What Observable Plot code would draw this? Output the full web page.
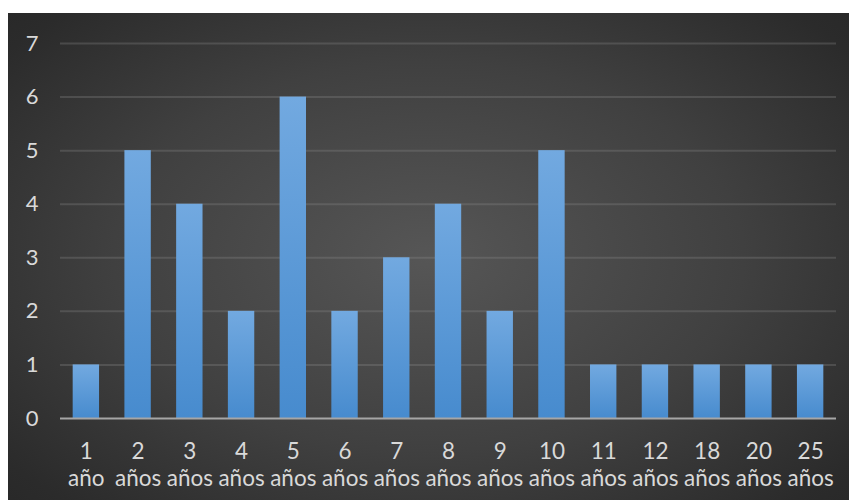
<!DOCTYPE html>
<html>
<head>
<meta charset="utf-8">
<script src="https://cdn.jsdelivr.net/npm/d3@7"></script>
<script src="https://cdn.jsdelivr.net/npm/@observablehq/plot@0.6"></script>
<style>
  html, body { margin: 0; padding: 0; background: #ffffff; }
  #chart { padding: 13px 0 0 8px; }
  #chart svg { display: block; }
</style>
</head>
<body>
<div id="chart"></div>
<script>
// Number of people by years (antigüedad)
const years = ["1", "2", "3", "4", "5", "6", "7", "8", "9", "10", "11", "12", "18", "20", "25"];
const counts = [1, 5, 4, 2, 6, 2, 3, 4, 2, 5, 1, 1, 1, 1, 1];
const tickLabels = ["1\naño", "2\naños", "3\naños", "4\naños", "5\naños", "6\naños", "7\naños",
  "8\naños", "9\naños", "10\naños", "11\naños", "12\naños", "18\naños", "20\naños", "25\naños"];
const yTicks = [0, 1, 2, 3, 4, 5, 6, 7];

const rows = years.map((y, i) => ({year: y, count: counts[i], label: tickLabels[i]}));
const labelOf = new Map(rows.map(d => [d.year, d.label]));

const chart = Plot.plot({
  width: 841,
  height: 487,
  marginLeft: 52,
  marginRight: 13,
  marginTop: 30,
  marginBottom: 82,
  style: {
    background: "radial-gradient(ellipse 75% 80% at 50% 50%, #565656 0%, #404040 50%, #2b2b2b 85%, #262626 100%)",
    color: "#d9d9d9",
    fontFamily: "Lato, 'Open Sans', sans-serif"
  },
  x: {domain: years, paddingInner: 0.49, paddingOuter: 0.245, round: false, label: null},
  y: {domain: [0, 7], label: null},
  marks: [
    Plot.gridY(yTicks.filter(v => v > 0), {stroke: "#8a8a8a", strokeOpacity: 0.3, strokeWidth: 2}),
    Plot.barY(rows, {x: "year", y: "count", fill: "url(#barFill)"}),
    Plot.ruleY([0], {stroke: "#a6a6a6", strokeWidth: 2}),
    Plot.axisY({ticks: yTicks, tickFormat: d => String(d), tickSize: 0, tickPadding: 22,
      fontSize: 22, fill: "#d9d9d9", label: null}),
    Plot.axisX({tickSize: 0, tickPadding: 21, fontSize: 22.5, lineHeight: 1.22, fill: "#d9d9d9",
      tickFormat: d => labelOf.get(d), label: null})
  ]
});

// vertical gradient used by the bars
const defs = d3.select(chart).insert("defs", ":first-child");
const grad = defs.append("linearGradient")
  .attr("id", "barFill").attr("x1", 0).attr("y1", 0).attr("x2", 0).attr("y2", 1);
grad.append("stop").attr("offset", "0%").attr("stop-color", "#72a9e0");
grad.append("stop").attr("offset", "100%").attr("stop-color", "#478bce");

document.getElementById("chart").appendChild(chart);
</script>
</body>
</html>
